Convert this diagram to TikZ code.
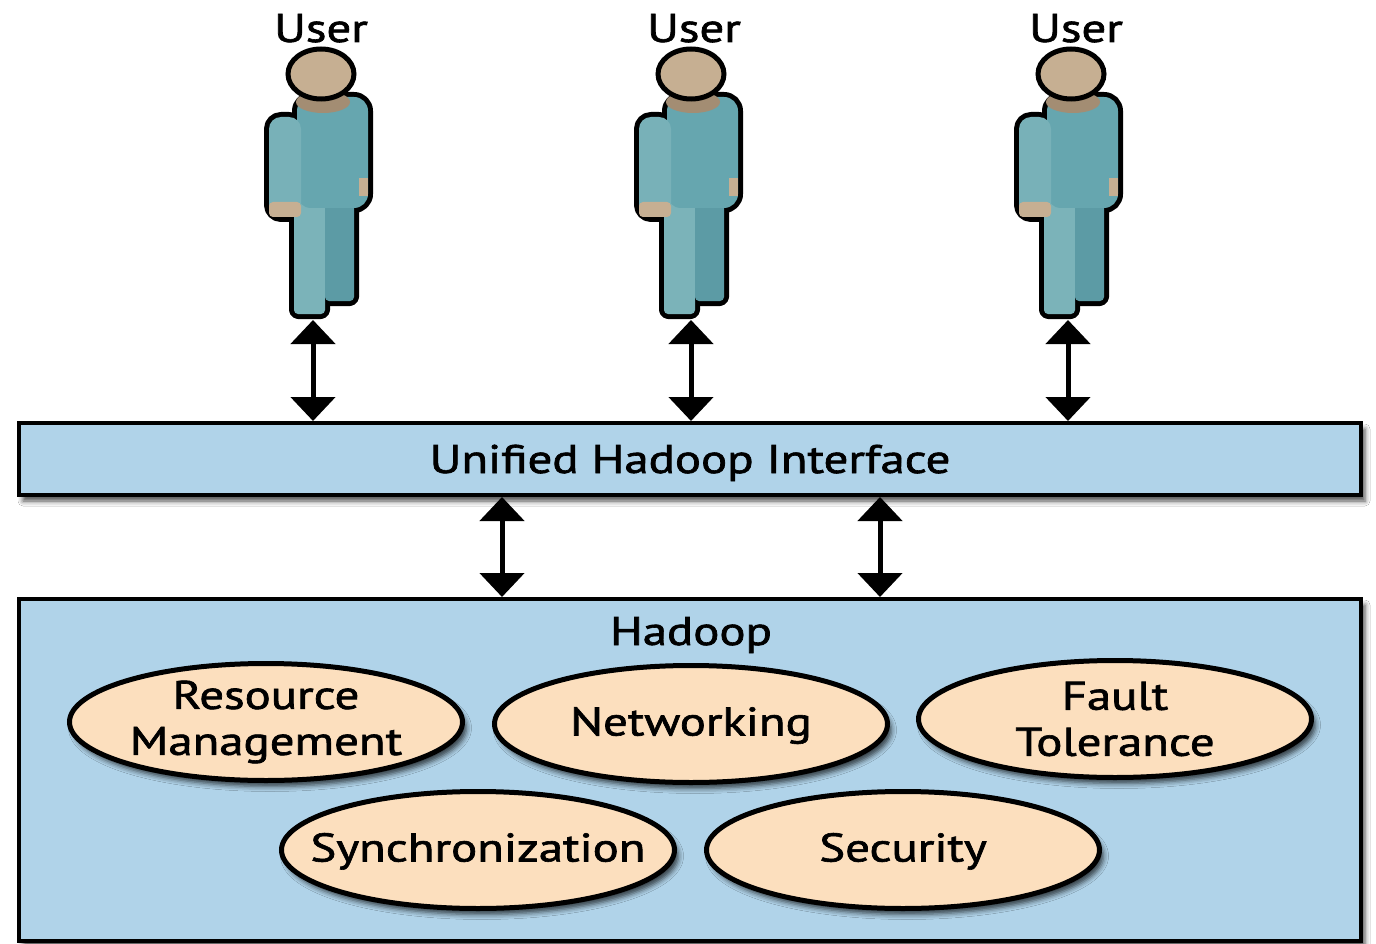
\documentclass[tikz,border=0pt]{standalone}
\usepackage{fontspec}
\usepackage{graphicx}
\setmainfont{PT Sans}[BoldFont={PT Sans}, BoldFeatures={FakeBold=1.5}]
\usetikzlibrary{arrows.meta,shapes.geometric,shadows.blur}
\definecolor{boxblue}{HTML}{B0D3E9}
\definecolor{peach}{HTML}{FCDFBE}
\definecolor{torso}{HTML}{66A6AF}
\definecolor{armc}{HTML}{78B1B8}
\definecolor{legl}{HTML}{7BB3B9}
\definecolor{legr}{HTML}{5C9BA5}
\definecolor{skin}{HTML}{C6AF92}
\definecolor{collar}{HTML}{A38D73}
\newcommand{\wx}[1]{\scalebox{1.22}[1]{#1}}
\tikzset{
  shd/.style={blur shadow={shadow xshift=4pt, shadow yshift=-6pt, shadow blur radius=5pt, shadow opacity=70}},
  hbox/.style={rectangle, draw=black, line width=4pt, fill=boxblue, inner sep=0pt, shd},
  ell/.style={ellipse, draw=black, line width=5pt, fill=peach, minimum width=393pt, minimum height=117pt, inner xsep=-50pt, inner ysep=-12pt, align=center, shd},
  one/.style={text height=28pt, text depth=5pt},
  lbl/.style={anchor=base, inner sep=0pt},
  dbl/.style={line width=5pt, {Triangle[width=44pt,length=24pt]}-{Triangle[width=44pt,length=24pt]}},
  user/.pic={
    \begin{scope}[draw=black, fill=black, line width=10pt, line join=round]
      \filldraw[rounded corners=4pt] (29,200) rectangle (60,314);
      \filldraw[rounded corners=4pt] (58,200) rectangle (89,301);
      \filldraw[rounded corners=14pt] (32,97) rectangle (103,208);
      \filldraw[rounded corners=12pt] (4,117) rectangle (36,217);
      \filldraw (94,178) rectangle (103,196);
    \end{scope}
    \fill[legl, rounded corners=4pt] (29,200) rectangle (60,314);
    \fill[legr, rounded corners=4pt] (60,200) rectangle (89,301);
    \fill[torso, rounded corners=14pt] (32,97) rectangle (103,208);
    \fill[armc, rounded corners=12pt] (4,117) rectangle (36,217);
    \fill[skin, rounded corners=4pt] (4,202) rectangle (36,217);
    \fill[skin] (94,178) rectangle (103,196);
    \fill[collar] (58,102) ellipse [x radius=27, y radius=11];
    \filldraw[fill=skin, draw=black, line width=5pt] (56,74) ellipse [x radius=33, y radius=25];
  }
}
\begin{document}
\begin{tikzpicture}[x=1pt, y=-1pt, font=\fontsize{40}{46}\selectfont\bfseries]
\useasboundingbox (0,0) rectangle (1376,944);
\fill[white] (0,0) rectangle (1376,944);

% users
\pic (p1) at (265,0) {user};
\pic (p2) at (635,0) {user};
\pic (p3) at (1015,0) {user};
\node[lbl] (l1) at (321,42) {\wx{User}};
\node[lbl] (l2) at (694,42) {\wx{User}};
\node[lbl] (l3) at (1076,42) {\wx{User}};

% boxes
\node[hbox, minimum width=1342pt, minimum height=72pt, text height=28pt, text depth=0pt] (ui) at (690,459) {\wx{Unified Hadoop Interface}};
\node[hbox, minimum width=1342pt, minimum height=342pt] (hd) at (690,770) {};
\node[lbl] (hdl) at (691,645) {\wx{Hadoop}};

% components
\node[ell] (rm) at (266,722) {\wx{Resource}\\\wx{Management}};
\node[ell, one] (nw) at (691,724) {\wx{Networking}};
\node[ell] (ft) at (1115,719) {\wx{Fault}\\\wx{Tolerance}};
\node[ell, one] (sy) at (478,850) {\wx{Synchronization}};
\node[ell, one] (se) at (903,850) {\wx{Security}};

% connectors
\coordinate (a1) at (313,320);
\coordinate (a2) at (691,320);
\coordinate (a3) at (1068,320);
\draw[dbl] (a1) -- (a1 |- ui.north);
\draw[dbl] (a2) -- (a2 |- ui.north);
\draw[dbl] (a3) -- (a3 |- ui.north);
\draw[dbl] ([xshift=-188pt]ui.south) -- ([xshift=-188pt]hd.north);
\draw[dbl] ([xshift=190pt]ui.south) -- ([xshift=190pt]hd.north);
\end{tikzpicture}
\end{document}
